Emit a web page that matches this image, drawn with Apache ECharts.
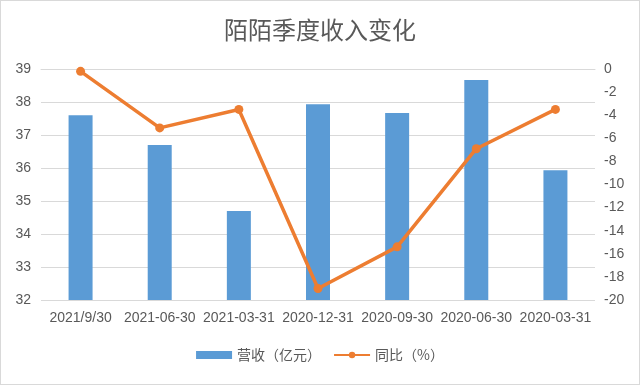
<!DOCTYPE html>
<html><head><meta charset="utf-8">
<script src="https://cdn.jsdelivr.net/npm/echarts@6/dist/echarts.min.js"></script>
<style>html,body{margin:0;padding:0;background:#fff}#c{width:638px;height:383px;border:1px solid #d9d9d9}</style>
</head><body><div id="c"></div>
<script>
const categories = ['2021/9/30','2021-06-30','2021-03-31','2020-12-31','2020-09-30','2020-06-30','2020-03-31'];
const revenue = [37.6, 36.7, 34.7, 37.93, 37.67, 38.67, 35.93];
const yoy = [-0.2, -5.1, -3.5, -19.0, -15.4, -6.9, -3.5];
const leftTicks = {min: 32, max: 39, interval: 1};
const rightTicks = {min: -20, max: 0, interval: 2};
const chart = echarts.init(document.getElementById('c'));
const txt = '#595959';
const font = 'Liberation Sans';
chart.setOption({
  animation: false,
  title: {text: '陌陌季度收入变化', left: 'center', top: 12, textStyle: {fontSize: 24, fontWeight: 'normal', color: txt, fontFamily: 'Noto Sans CJK SC'}},
  legend: {bottom: 17, left: 'center', itemGap: 12, textStyle: {fontSize: 14, color: txt, fontFamily: 'Noto Sans CJK SC'},
    data: [{name: '营收（亿元）', icon: 'rect'}, {name: '同比（%）'}], itemWidth: 36, itemHeight: 8},
  grid: {left: 40, right: 44, top: 68, bottom: 84},
  xAxis: {type: 'category', data: categories, axisTick: {show: false},
    axisLine: {lineStyle: {color: '#d9d9d9'}},
    axisLabel: {color: txt, fontSize: 14, margin: 11, interval: 0, fontFamily: font}},
  yAxis: [
    {type: 'value', min: leftTicks.min, max: leftTicks.max, interval: leftTicks.interval,
      axisLabel: {color: txt, fontSize: 14, margin: 10, fontFamily: font}, splitLine: {lineStyle: {color: '#d9d9d9', width: 1}}},
    {type: 'value', min: rightTicks.min, max: rightTicks.max, interval: rightTicks.interval,
      axisLabel: {color: txt, fontSize: 14, margin: 9, fontFamily: font}, splitLine: {show: false}}
  ],
  series: [
    {name: '营收（亿元）', type: 'bar', data: revenue, barWidth: 24, itemStyle: {color: '#5B9BD5'}},
    {name: '同比（%）', type: 'line', yAxisIndex: 1, data: yoy, symbol: 'circle', symbolSize: 9,
      lineStyle: {color: '#ED7D31', width: 3.5}, itemStyle: {color: '#ED7D31'}}
  ]
});
</script></body></html>
